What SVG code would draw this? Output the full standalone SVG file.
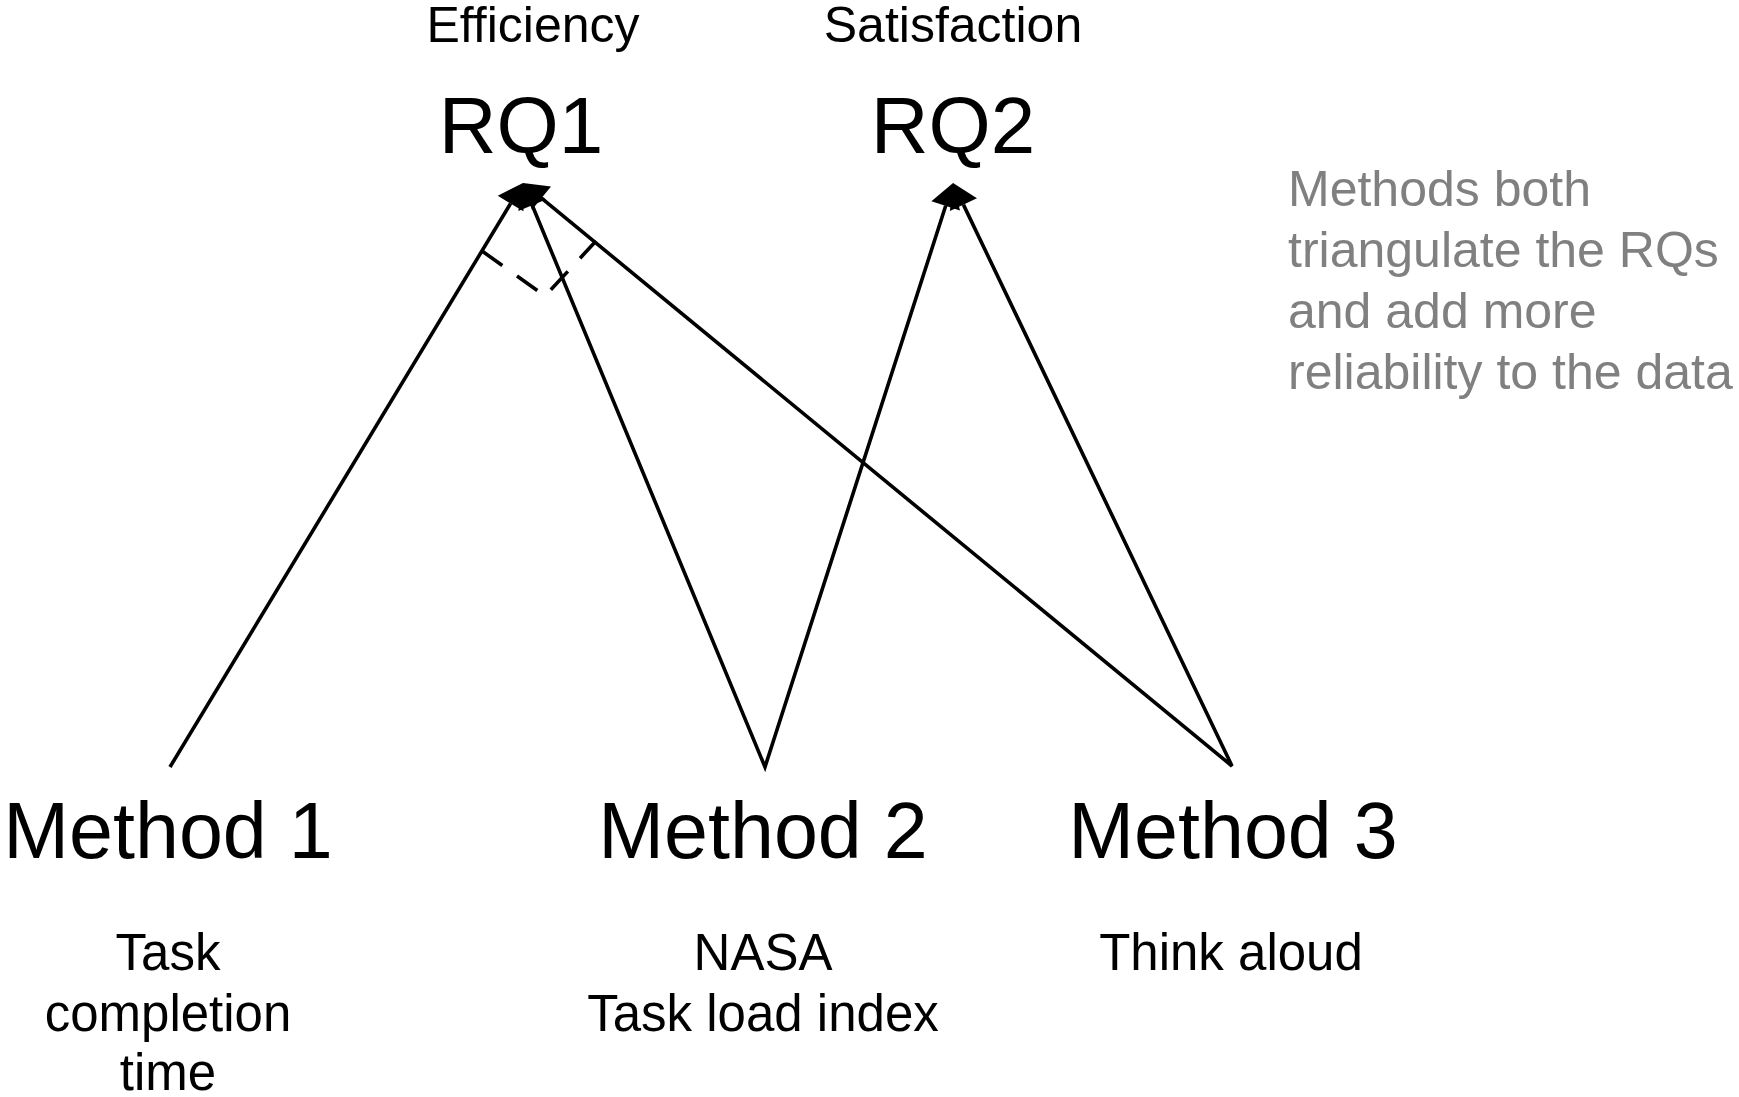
<svg xmlns="http://www.w3.org/2000/svg" width="1739" height="1097" viewBox="0 0 1739 1097">
  <style>
    text { font-family: "Liberation Sans", Arial, sans-serif; fill: #000; text-anchor: middle; }
    .rq { font-size: 80px; }
    .attr { font-size: 50px; }
    .method { font-size: 79px; }
    .sub { font-size: 51px; }
    .note { font-size: 50px; fill: #808080; text-anchor: start; }
    .conn { fill: none; stroke: #000; stroke-width: 3.6; stroke-linejoin: miter; }
    .angle { fill: none; stroke: #000; stroke-width: 3.6; stroke-dasharray: 25 18; }
  </style>
  <defs>
    <!-- filled block head, base at the path end, tip 24px ahead -->
    <marker id="head" markerUnits="userSpaceOnUse" viewBox="0 -15 24 30" markerWidth="24" markerHeight="30" refX="0" refY="0" orient="auto-start-reverse" overflow="visible">
      <path d="M0,-15 L24,0 L0,15 Z" fill="#000"/>
    </marker>
  </defs>

  <rect width="1739" height="1097" fill="#fff"/>

  <g id="rq1">
    <text class="attr" x="533" y="42">Efficiency</text>
    <text class="rq" x="521" y="153">RQ1</text>
  </g>

  <g id="rq2">
    <text class="attr" x="953" y="42">Satisfaction</text>
    <text class="rq" x="953" y="153">RQ2</text>
  </g>

  <g id="method1">
    <text class="method" x="168" y="858">Method 1</text>
    <text class="sub" x="168" y="970">Task</text>
    <text class="sub" x="168" y="1031">completion</text>
    <text class="sub" x="168" y="1090">time</text>
  </g>

  <g id="method2">
    <text class="method" x="763" y="858">Method 2</text>
    <text class="sub" x="763" y="970">NASA</text>
    <text class="sub" x="763" y="1031">Task load index</text>
  </g>

  <g id="method3">
    <text class="method" x="1233" y="858">Method 3</text>
    <text class="sub" x="1231" y="970">Think aloud</text>
  </g>

  <g id="note">
    <text class="note" x="1288" y="206">Methods both</text>
    <text class="note" x="1288" y="267">triangulate the RQs</text>
    <text class="note" x="1288" y="328">and add more</text>
    <text class="note" x="1288" y="389">reliability to the data</text>
  </g>

  <g id="connectors">
    <!-- Method 1 to RQ1 -->
    <path class="conn" d="M170,767 L510.6,203.5" marker-end="url(#head)"/>
    <!-- Method 2 to RQ1 and RQ2 -->
    <path class="conn" d="M532.2,205.2 L765,767 L945.7,205.8" marker-start="url(#head)" marker-end="url(#head)"/>
    <!-- Method 3 to RQ1 and RQ2 -->
    <path class="conn" d="M541.5,198.2 L1232,766 L963.4,204.6" marker-start="url(#head)" marker-end="url(#head)"/>
    <!-- dashed angle mark across the RQ1 fan -->
    <path class="angle" d="M482,251 L545,296 L596,241"/>
  </g>
</svg>
